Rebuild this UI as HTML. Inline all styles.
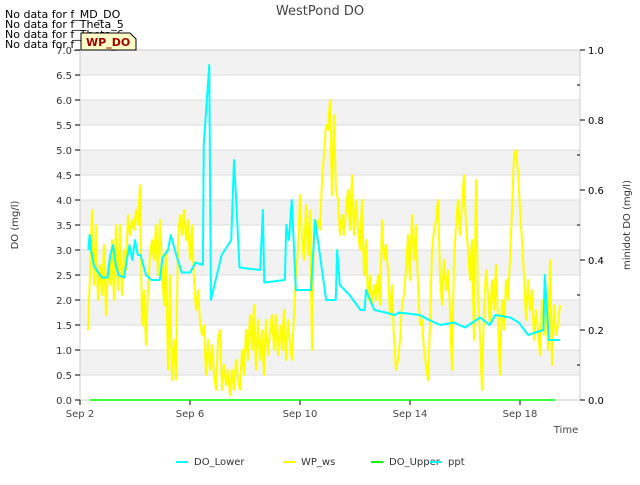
<!DOCTYPE html>
<html><head><meta charset="utf-8"><style>
body{margin:0;background:#fff;font-family:"Liberation Sans","DejaVu Sans",sans-serif}
svg text{font-family:"DejaVu Sans","Liberation Sans",sans-serif}
</style></head><body>
<svg id="chart" width="640" height="480" xmlns="http://www.w3.org/2000/svg">
<g id="bands"></g><g id="grid"></g>
<rect x="80" y="50" width="500" height="350" fill="none" stroke="#ccc"/>
<g id="axes"></g><g id="series"></g>
<text x="320" y="15" text-anchor="middle" font-size="13" fill="#444">WestPond DO</text>
<text transform="translate(18,225) rotate(-90)" text-anchor="middle" font-size="10" fill="#333">DO (mg/l)</text>
<text transform="translate(630,225) rotate(-90)" text-anchor="middle" font-size="10" fill="#333">minidot DO (mg/l)</text>
<text x="566" y="433" text-anchor="middle" font-size="10" fill="#444">Time</text>
<g font-size="11" fill="#000">
<text x="5" y="18">No data for f_MD_DO</text><text x="5" y="28">No data for f_Theta_5</text>
<text x="5" y="38">No data for f_Theta_6</text><text x="5" y="48">No data for f_Theta_7</text></g>
<g><path d="M81,33 H130 L136,39 V50 H81 Z" fill="#ffffc8" stroke="#000"/>
<text x="86" y="46" font-size="11" font-weight="bold" fill="#a00000">WP_DO</text></g>
<g id="legend" font-size="10" fill="#333"></g>
</svg>
<script>
const yTicks=[0,0.5,1,1.5,2,2.5,3,3.5,4,4.5,5,5.5,6,6.5,7];
const y2Ticks=[0,0.2,0.4,0.6,0.8,1.0];
const xTickDays=[2,6,10,14,18];
const xTickLabels=["Sep 2","Sep 6","Sep 10","Sep 14","Sep 18"];
const pptDays=[2.3,2.35,2.4,2.5,2.6,2.8,3.0,3.1,3.2,3.3,3.4,3.6,3.7,3.8,3.9,4.0,4.1,4.2,4.4,4.6,4.9,5.0,5.2,5.3,5.5,5.7,6.0,6.2,6.47,6.5,6.7,6.76,7.15,7.5,7.6,7.67,7.8,8.55,8.65,8.7,9.45,9.5,9.6,9.7,9.85,10.4,10.55,10.95,11.3,11.35,11.45,11.8,12.2,12.35,12.4,12.7,13.1,13.45,13.6,14.35,14.7,15.1,15.6,16.0,16.55,16.9,17.1,17.65,17.95,18.3,18.55,18.85,18.9,19.05,19.45];
const pptVals=[3.0,3.3,3.0,2.7,2.6,2.45,2.45,2.9,3.1,2.7,2.5,2.45,2.8,3.1,2.8,3.2,2.9,2.9,2.5,2.4,2.4,2.85,3.0,3.3,2.9,2.55,2.55,2.75,2.7,5.1,6.7,2.0,2.9,3.2,4.8,4.1,2.65,2.6,3.8,2.35,2.4,3.5,3.2,4.0,2.2,2.2,3.6,2.0,2.0,3.0,2.3,2.1,1.8,1.8,2.2,1.8,1.75,1.7,1.75,1.7,1.6,1.5,1.55,1.45,1.65,1.5,1.7,1.65,1.55,1.3,1.35,1.4,2.5,1.2,1.2];
const wsStartDay=2.29, wsStepDay=2/27.5;
const wsVals=[1.4,2.5,3.8,2.3,3.5,2.0,2.7,2.1,3.1,1.7,2.7,2.3,3.2,2.0,3.5,2.2,3.5,2.1,3.0,2.6,3.7,3.3,3.6,3.4,3.8,3.5,4.3,1.5,2.2,1.1,2.2,2.9,3.2,2.8,3.5,2.5,3.6,2.7,1.9,3.0,0.6,2.5,0.4,1.2,0.4,3.2,3.7,3.3,3.8,3.2,3.6,2.8,3.5,2.4,1.8,2.2,1.6,1.3,1.5,0.5,1.2,0.6,1.1,0.5,0.2,1.2,1.4,0.2,0.7,0.3,0.6,0.1,0.6,0.2,0.8,0.4,0.2,1.0,0.5,1.4,0.8,1.7,1.0,1.9,0.6,1.6,0.8,1.4,0.5,1.6,0.9,1.4,1.7,1.0,1.7,0.9,1.5,1.0,1.8,0.8,1.6,1.1,0.8,1.7,2.5,3.0,4.1,3.2,2.8,3.9,2.9,3.8,1.0,3.6,3.3,3.6,3.4,4.4,4.9,5.5,5.4,6.0,4.1,5.7,4.2,4.0,3.3,3.7,3.3,3.8,4.2,3.4,4.5,3.3,4.0,3.4,3.0,4.0,2.5,3.2,2.0,2.5,1.9,2.3,2.0,2.5,1.9,3.6,2.8,3.1,2.6,1.7,2.3,1.2,0.6,0.8,1.2,1.9,2.1,2.6,3.3,2.4,3.7,2.8,3.5,2.3,1.5,1.6,1.0,0.7,0.4,1.5,3.0,3.4,3.6,4.0,2.5,1.9,2.8,2.2,2.6,1.8,0.6,2.8,3.5,4.0,3.3,3.9,4.5,3.5,3.0,2.4,3.2,1.2,4.4,2.0,1.3,0.2,1.8,2.6,2.1,1.5,2.4,1.8,2.7,1.6,0.5,2.0,1.4,2.4,2.0,2.8,3.8,4.9,5.0,4.6,3.8,3.2,2.5,1.6,2.4,1.8,2.2,1.2,1.8,1.4,0.9,2.0,1.3,2.1,1.0,2.8,0.7,1.9,1.3,1.5,1.9];
const doLowerDays=[2.36,19.3];
const doLowerVals=[0,0];
const NS="http://www.w3.org/2000/svg";
const X=d=>80+(d-2)*27.5, Y=v=>400-v*50, Y2=v=>400-v*350;
function mk(tag,attrs,parent){const e=document.createElementNS(NS,tag);for(const k in attrs)e.setAttribute(k,attrs[k]);document.getElementById(parent).appendChild(e);return e;}
for(let i=0;i<yTicks.length-1;i++){
  const b=mk('rect',{x:80,y:Y(yTicks[i+1]),width:500,height:Y(yTicks[i])-Y(yTicks[i+1]),fill:i%2?'#f2f2f2':'#fff'},'bands');
  
  
}
yTicks.forEach(v=>{
  const g=mk('line',{x1:80,x2:580,y1:Y(v),y2:Y(v),stroke:'#ddd'},'grid');
  
  
  mk('line',{x1:75,x2:80,y1:Y(v),y2:Y(v),stroke:'#000'},'axes');
  const t=mk('text',{x:72,y:Y(v)+4,'text-anchor':'end','font-size':10,fill:'#333'},'axes');
  t.textContent=v.toFixed(1);
  
  
});
for(let v=0.1;v<1;v+=0.2){mk('line',{x1:577,x2:580,y1:Y2(v),y2:Y2(v),stroke:'#000'},'axes');}
y2Ticks.forEach(v=>{
  mk('line',{x1:580,x2:585,y1:Y2(v),y2:Y2(v),stroke:'#000'},'axes');
  const t=mk('text',{x:588,y:Y2(v)+4,'font-size':10,fill:'#000'},'axes');
  t.textContent=v.toFixed(1);
  
  
});
xTickDays.forEach((d,i)=>{
  mk('line',{x1:X(d),x2:X(d),y1:400,y2:405,stroke:'#000'},'axes');
  const t=mk('text',{x:X(d),y:417,'text-anchor':'middle','font-size':10,fill:'#444'},'axes');
  t.textContent=xTickLabels[i];
  
  
});
function line(xs,ys,color,name,w){
  const p=mk('polyline',{points:xs.map((x,i)=>X(x)+','+Y(ys[i])).join(' '),fill:'none',stroke:color,'stroke-width':w,'stroke-linejoin':'round'},'series');
  
  
}
line(doLowerDays,doLowerVals,'#00ff00','do-upper-line',1.5);
line(wsVals.map((v,i)=>wsStartDay+i*wsStepDay),wsVals,'#ffff00','wp-ws-line',2);
line(pptDays,pptVals,'#00ffff','ppt-line',2);
const legend=[["DO_Lower","#00ffff",176],["WP_ws","#ffff00",283],["DO_Upper","#00ff00",371],["ppt","#00ffff",430]];
legend.forEach(([n,c,x])=>{
  const l=mk('line',{x1:x,x2:x+12,y1:462,y2:462,stroke:c,'stroke-width':2},'legend');
  
  
  const t=mk('text',{x:x+18,y:465,'font-size':10,fill:'#333'},'legend');
  t.textContent=n;
  
  
});
</script>
</body></html>
